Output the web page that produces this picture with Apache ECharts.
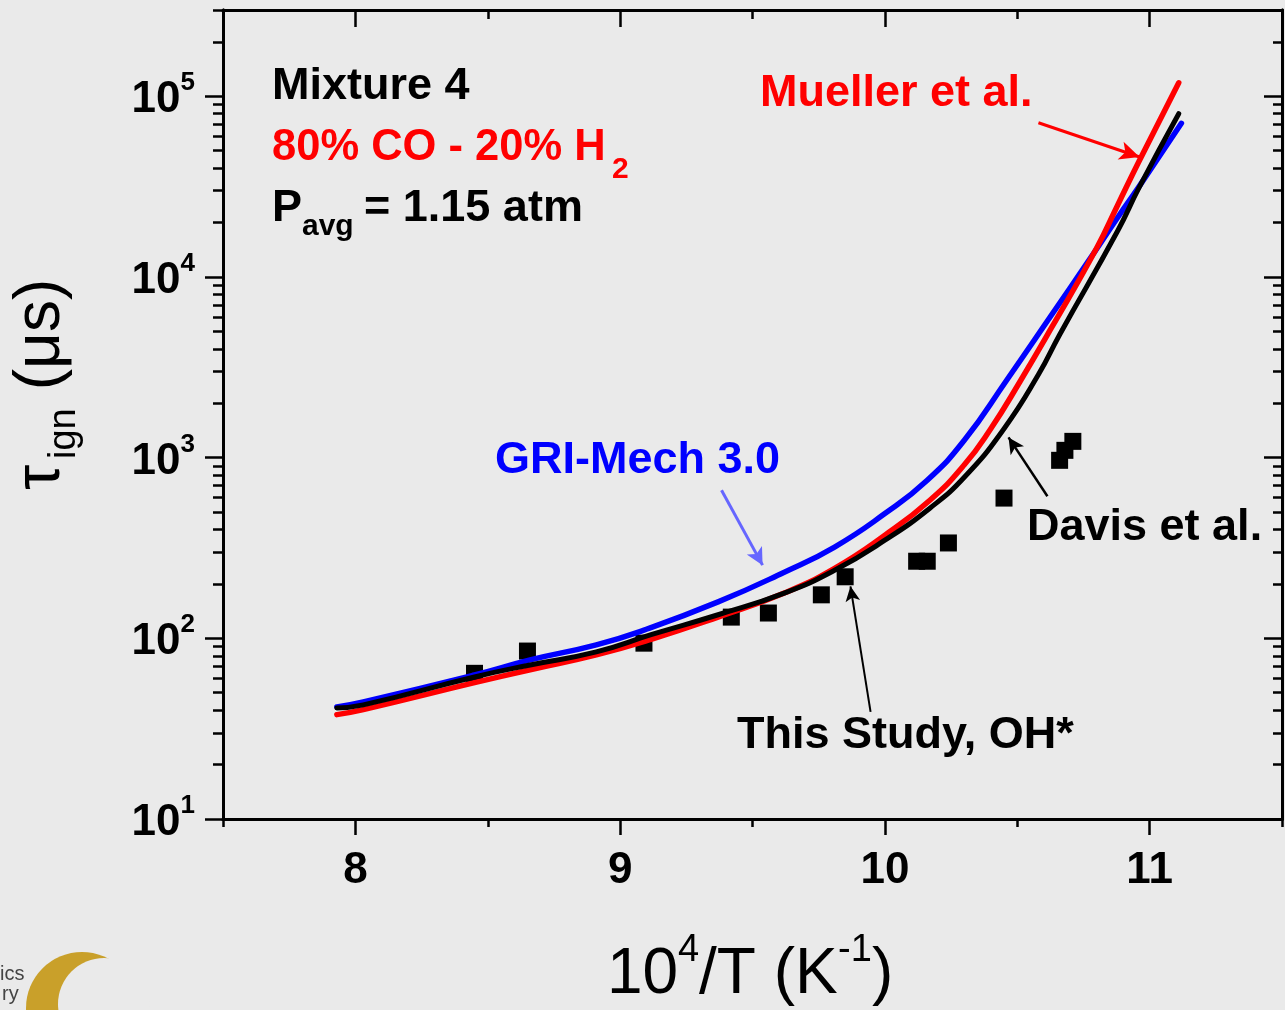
<!DOCTYPE html>
<html>
<head>
<meta charset="utf-8">
<title>Mixture 4 ignition delay</title>
<script src="https://cdn.jsdelivr.net/npm/echarts@6/dist/echarts.min.js"></script>
<style>
  html, body { margin: 0; padding: 0; background: #eaeaea; }
  #chart { width: 1285px; height: 1010px; }
</style>
</head>
<body>
<div id="chart"></div>
<script>
// values: x = 10^4/T (1/K), y = ignition delay (us)
const griX = [7.93, 8.03, 8.45, 8.66, 8.91, 9.09, 9.37, 9.62, 9.81, 10.0, 10.16, 10.30, 10.46, 10.63, 10.77, 10.88, 10.96, 11.12];
const griTau = [41.7, 44.5, 62.7, 75.9, 92, 111, 159, 232, 320, 490, 750, 1247, 2680, 6170, 12300, 21400, 31600, 70800];

const muellerX = [7.93, 8.03, 8.45, 8.66, 8.91, 9.12, 9.37, 9.62, 9.81, 10.0, 10.17, 10.30, 10.40, 10.51, 10.63, 10.80, 10.88, 10.96, 11.11];
const muellerTau = [37.8, 40.3, 56.8, 67, 81, 99, 131, 178, 244, 372, 581, 912, 1445, 2630, 5250, 14450, 25100, 43650, 118600];

const davisX = [7.93, 8.03, 8.45, 8.66, 8.91, 9.12, 9.37, 9.62, 9.81, 10.0, 10.17, 10.30, 10.45, 10.58, 10.66, 10.88, 10.96, 11.11];
const davisTau = [41.2, 42.8, 61.1, 71.2, 84.1, 105, 135, 178, 238, 349, 525, 778, 1445, 2880, 4790, 18070, 31200, 80000];

const expX = [8.45, 8.65, 9.09, 9.42, 9.56, 9.76, 9.85, 10.12, 10.16, 10.24, 10.45, 10.66, 10.68, 10.71];
const expTau = [64, 85, 94, 131, 138, 174, 219, 267, 267, 337, 597, 966, 1097, 1230];

const xMajor = [8, 9, 10, 11];
const xMinor = [7.5, 8.5, 9.5, 10.5, 11.5];
const yMajor = [10, 100, 1000, 10000, 100000];
const yMinor = [];
yMajor.forEach(function (d) {
  for (let k = 2; k <= 9; k++) {
    if (d * k <= 300000) yMinor.push(d * k);
  }
});

const FONT = '"Liberation Sans", Arial, Helvetica, sans-serif';
const BG = '#eaeaea';

function pairs(xs, ys) {
  return xs.map(function (x, i) { return [x, ys[i]]; });
}

// text placed by its baseline
function txt(text, x, base, size, color, weight) {
  return {
    type: 'text', x: x, y: base - 0.3465 * size, silent: true, z: 100,
    style: {
      text: text, fill: color, fontSize: size, fontWeight: weight || 'bold',
      fontFamily: FONT, align: 'left', verticalAlign: 'middle',
      textAlign: 'left', textVerticalAlign: 'middle'
    }
  };
}

function arrow(from, to, color, width, head) {
  return [
    { coord: from, symbol: 'none', lineStyle: { color: color, width: width, type: 'solid' } },
    { coord: to, symbol: 'arrow', symbolSize: head }
  ];
}

const axisLineStyle = { color: '#000', width: 3 };

function xAx(pos, values, len, inside, labels) {
  return {
    type: 'value', min: 7.5, max: 11.5, position: pos,
    axisLine: { show: true, onZero: false, lineStyle: axisLineStyle },
    axisTick: { show: true, inside: inside, length: len, customValues: values, lineStyle: { color: '#000', width: 2.5 } },
    axisLabel: labels ? {
      show: true, customValues: values, margin: 30, color: '#000',
      fontSize: 44, fontWeight: 'bold', fontFamily: FONT
    } : { show: false },
    splitLine: { show: false }
  };
}

function yAx(pos, values, len, inside, labels) {
  return {
    type: 'log', logBase: 10, min: 10, max: 300000, position: pos,
    axisLine: { show: true, onZero: false, lineStyle: axisLineStyle },
    axisTick: { show: true, inside: inside, length: len, customValues: values, lineStyle: { color: '#000', width: 2.5 } },
    axisLabel: labels ? {
      show: true, customValues: values, margin: 28,
      formatter: function (v) { return '{b|10}{s|' + Math.round(Math.log10(v)) + '}'; },
      rich: {
        b: { fontSize: 44, fontWeight: 'bold', fontFamily: FONT, color: '#000', padding: [8, 0, 0, 0], verticalAlign: 'bottom' },
        s: { fontSize: 26, fontWeight: 'bold', fontFamily: FONT, color: '#000', verticalAlign: 'top' }
      }
    } : { show: false },
    splitLine: { show: false },
    minorTick: { show: false }
  };
}

function curve(name, xs, ys, color, width) {
  return {
    name: name, type: 'line', data: pairs(xs, ys),
    showSymbol: false, smooth: 0.5,
    lineStyle: { color: color, width: width, cap: 'round', join: 'round' },
    itemStyle: { color: color }, silent: true
  };
}

const chart = echarts.init(document.getElementById('chart'), null, { renderer: 'canvas' });

const option = {
  backgroundColor: BG,
  animation: false,
  grid: { left: 223, right: 3, top: 10, bottom: 191, containLabel: false, outerBoundsMode: 'none' },
  xAxis: [
    xAx('bottom', xMajor, 16, false, true),
    xAx('bottom', xMinor, 8, false, false),
    xAx('top', xMajor, 17, true, false),
    xAx('top', xMinor, 9, true, false)
  ],
  yAxis: [
    yAx('left', yMajor, 18, false, true),
    yAx('left', yMinor, 10, false, false),
    yAx('right', yMajor, 18, true, false),
    yAx('right', yMinor, 9, true, false)
  ],
  series: [
    {
      name: 'This Study, OH*', type: 'scatter', data: pairs(expX, expTau),
      symbol: 'rect', symbolSize: 17, itemStyle: { color: '#000', opacity: 1 }, silent: true,
      markLine: {
        silent: true, animation: false,
        label: { show: false },
        lineStyle: { type: 'solid' },
        symbol: ['none', 'arrow'],
        data: [
          arrow([10.58, 71300], [10.962, 46100], '#ff0000', 3, [14, 20]),
          arrow([9.383, 659], [9.538, 254], '#6666ff', 3, [13, 17]),
          arrow([10.614, 611], [10.467, 1294], '#000', 2.5, [12, 16]),
          arrow([9.946, 39.2], [9.87, 194], '#000', 2, [11, 15])
        ]
      }
    },
    curve('GRI-Mech 3.0', griX, griTau, '#0000ff', 5.5),
    curve('Mueller et al.', muellerX, muellerTau, '#ff0000', 5.5),
    curve('Davis et al.', davisX, davisTau, '#000000', 5)
  ],
  graphic: [
    txt('Mixture 4', 272, 102, 45, '#000'),
    txt('80% CO - 20% H', 272, 163, 43.5, '#ff0000'),
    txt('2', 612, 180, 30, '#ff0000'),
    txt('P', 272, 224, 45, '#000'),
    txt('avg', 302, 237, 30, '#000'),
    txt('= 1.15 atm', 364, 224, 45, '#000'),

    txt('Mueller et al.', 760, 109, 45, '#ff0000'),
    txt('GRI-Mech 3.0', 495, 476, 45, '#0000ff'),
    txt('Davis et al.', 1027, 543, 45, '#000'),
    txt('This Study, OH*', 737, 751, 45, '#000'),

    // x axis title
    txt('10', 607, 998, 64, '#000', 'normal'),
    txt('4', 678, 964, 38, '#000', 'normal'),
    txt('/T (K', 699, 998, 64, '#000', 'normal'),
    txt('-1', 838, 964, 38, '#000', 'normal'),
    txt(')', 872, 998, 64, '#000', 'normal'),

    // y axis title, rotated to read upwards
    {
      type: 'group', x: 64, y: 490, rotation: Math.PI / 2,
      children: [
        txt('\u03c4', 0, 0, 64, '#000', 'normal'),
        txt('ign', 31, 14, 38, '#000', 'normal'),
        txt(' (\u03bcs)', 82, 0, 64, '#000', 'normal')
      ]
    },

    // bits of the slide logo cut off at the bottom left
    txt('ics', 0, 981, 20, '#444', 'normal'),
    txt('ry', 2, 1001, 20, '#444', 'normal'),
    { type: 'circle', shape: { cx: 82, cy: 1008, r: 56 }, style: { fill: '#c9a02a' }, silent: true },
    { type: 'circle', shape: { cx: 104, cy: 1004, r: 46 }, style: { fill: BG }, silent: true }
  ]
};

chart.setOption(option);
window.addEventListener('resize', chart.resize);
</script>
</body>
</html>
